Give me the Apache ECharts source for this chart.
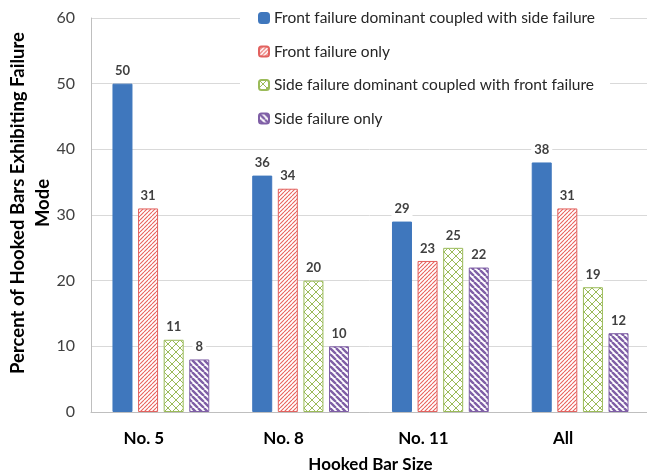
<!DOCTYPE html>
<html>
<head>
<meta charset="utf-8">
<script src="https://cdn.jsdelivr.net/npm/echarts@6/dist/echarts.min.js"></script>
<style>
  html, body { margin: 0; padding: 0; background: #fff; }
  #chart { width: 647px; height: 470px; }
</style>
</head>
<body>
<div id="chart"></div>
<script>
// chart data
var categories = ['No. 5', 'No. 8', 'No. 11', 'All'];
var frontDominant = [50, 36, 29, 38];
var frontOnly = [31, 34, 23, 31];
var sideDominant = [11, 20, 25, 19];
var sideOnly = [8, 10, 22, 12];
var seriesNames = [
  'Front failure dominant coupled with side failure',
  'Front failure only',
  'Side failure dominant coupled with front failure',
  'Side failure only'
];
var yTicks = [0, 10, 20, 30, 40, 50, 60];

var FONT = 'Lato';

// hatch patterns
function hatch(color, size, lw, dirs) {
  var c = document.createElement('canvas');
  c.width = size; c.height = size;
  var ctx = c.getContext('2d');
  ctx.fillStyle = '#fff';
  ctx.fillRect(0, 0, size, size);
  ctx.strokeStyle = color;
  ctx.lineWidth = lw;
  ctx.beginPath();
  for (var k = -1; k <= 1; k++) {
    if (dirs.indexOf('/') >= 0) {
      ctx.moveTo(k * size, size);
      ctx.lineTo(k * size + size, 0);
    }
    if (dirs.indexOf('\\') >= 0) {
      ctx.moveTo(k * size, 0);
      ctx.lineTo(k * size + size, size);
    }
  }
  ctx.stroke();
  return { image: c, repeat: 'repeat' };
}

var styles = [
  { color: '#3f77bd', borderColor: '#3f77bd' },
  { color: hatch('#e8605c', 4, 1.1, '/'), borderColor: '#e2625f' },
  { color: hatch('#9bbb59', 8, 1, '/\\'), borderColor: '#9bbb59' },
  { color: hatch('#7f5fa6', 6, 2.4, '\\'), borderColor: '#7f5fa6' }
];
var values = [frontDominant, frontOnly, sideDominant, sideOnly];

var chart = echarts.init(document.getElementById('chart'));

var series = values.map(function (v, i) {
  return {
    name: seriesNames[i],
    type: 'bar',
    data: v,
    barWidth: 20,
    barGap: '28%',
    itemStyle: {
      color: styles[i].color,
      borderColor: styles[i].borderColor,
      borderWidth: 1
    },
    label: {
      show: true,
      position: 'top',
      distance: 5,
      fontFamily: FONT,
      fontWeight: 'bold',
      fontSize: 13,
      color: '#404040',
      backgroundColor: '#fff',
      padding: [1, 3]
    }
  };
});

var option = {
  animation: false,
  textStyle: { fontFamily: FONT },
  grid: { left: 91, right: -3, top: 18, bottom: 58, outerBoundsMode: 'none', containLabel: false },
  legend: {
    orient: 'vertical',
    left: 240,
    top: 4,
    padding: [6, 15, 6, 18],
    itemGap: 17.5,
    itemWidth: 10,
    itemHeight: 10,
    backgroundColor: '#fff',
    textStyle: { fontFamily: FONT, fontSize: 15.5, color: '#262626' },
    data: seriesNames
  },
  xAxis: {
    type: 'category',
    data: categories,
    name: 'Hooked Bar Size',
    nameLocation: 'middle',
    nameGap: 44,
    nameTextStyle: { fontFamily: FONT, fontWeight: 'bold', fontSize: 17, color: '#000' },
    axisLine: { lineStyle: { color: '#bfbfbf', width: 1 } },
    axisTick: { show: false },
    axisLabel: {
      margin: 18,
      fontFamily: FONT,
      fontWeight: 'bold',
      fontSize: 17,
      color: '#000',
      padding: [0, 34, 0, 0]
    }
  },
  yAxis: {
    type: 'value',
    min: yTicks[0],
    max: yTicks[yTicks.length - 1],
    interval: 10,
    name: 'Percent of Hooked Bars Exhibiting Failure\nMode',
    nameLocation: 'middle',
    nameGap: 35,
    nameMoveOverlap: false,
    nameTextStyle: {
      fontFamily: FONT, fontWeight: 'bold', fontSize: 18.5, color: '#000',
      lineHeight: 25, padding: [0, 0, 0, 24]
    },
    axisLine: { show: true, lineStyle: { color: '#bfbfbf', width: 1 } },
    axisTick: { show: false },
    splitLine: { lineStyle: { color: '#d9d9d9', width: 1 } },
    axisLabel: { margin: 16, fontFamily: FONT, fontSize: 16, color: '#404040' }
  },
  series: series
};

chart.setOption(option);
</script>
</body>
</html>
